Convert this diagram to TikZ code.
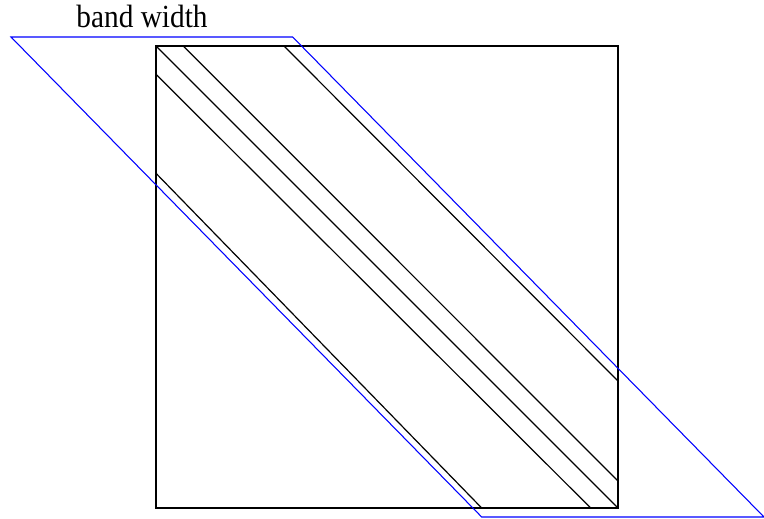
\documentclass[tikz,border=0pt]{standalone}
\usepackage{fontspec}
\setmainfont{Liberation Serif}
\begin{document}
\begin{tikzpicture}[x=0.75pt,y=-0.75pt,
  boxline/.style={draw=black,line width=1.1pt},
  diagline/.style={draw=black,line width=0.9pt},
  bandline/.style={draw=blue,line width=0.8pt},
  lbl/.style={font=\fontsize{22}{26}\selectfont,inner sep=0pt,anchor=base}]
\useasboundingbox (0,0) rectangle (764,518);
% square
\coordinate (tl) at (156,46);
\coordinate (tr) at (618,46);
\coordinate (br) at (618,508);
\coordinate (bl) at (156,508);
\draw[boxline] (tl) -- (tr) -- (br) -- (bl) -- cycle;
% diagonals
\coordinate (a1) at (183.3,46);
\coordinate (a2) at (618,481);
\coordinate (b1) at (284,46);
\coordinate (b2) at (618,381);
\coordinate (c1) at (156,74.3);
\coordinate (c2) at (590.7,508);
\coordinate (d1) at (156,173.3);
\coordinate (d2) at (481.7,508);
\draw[diagline] (tl) -- (br);
\draw[diagline] (a1) -- (a2);
\draw[diagline] (b1) -- (b2);
\draw[diagline] (c1) -- (c2);
\draw[diagline] (d1) -- (d2);
% band
\coordinate (p1) at (11,37);
\coordinate (p2) at (292.7,37);
\coordinate (p3) at (764,517);
\coordinate (p4) at (481.7,517);
\draw[bandline] (p1) -- (p2) -- (p3) -- (p4) -- cycle;
\node[lbl,yscale=1.1] (t) at (142,27.3) {band width};
\end{tikzpicture}
\end{document}
